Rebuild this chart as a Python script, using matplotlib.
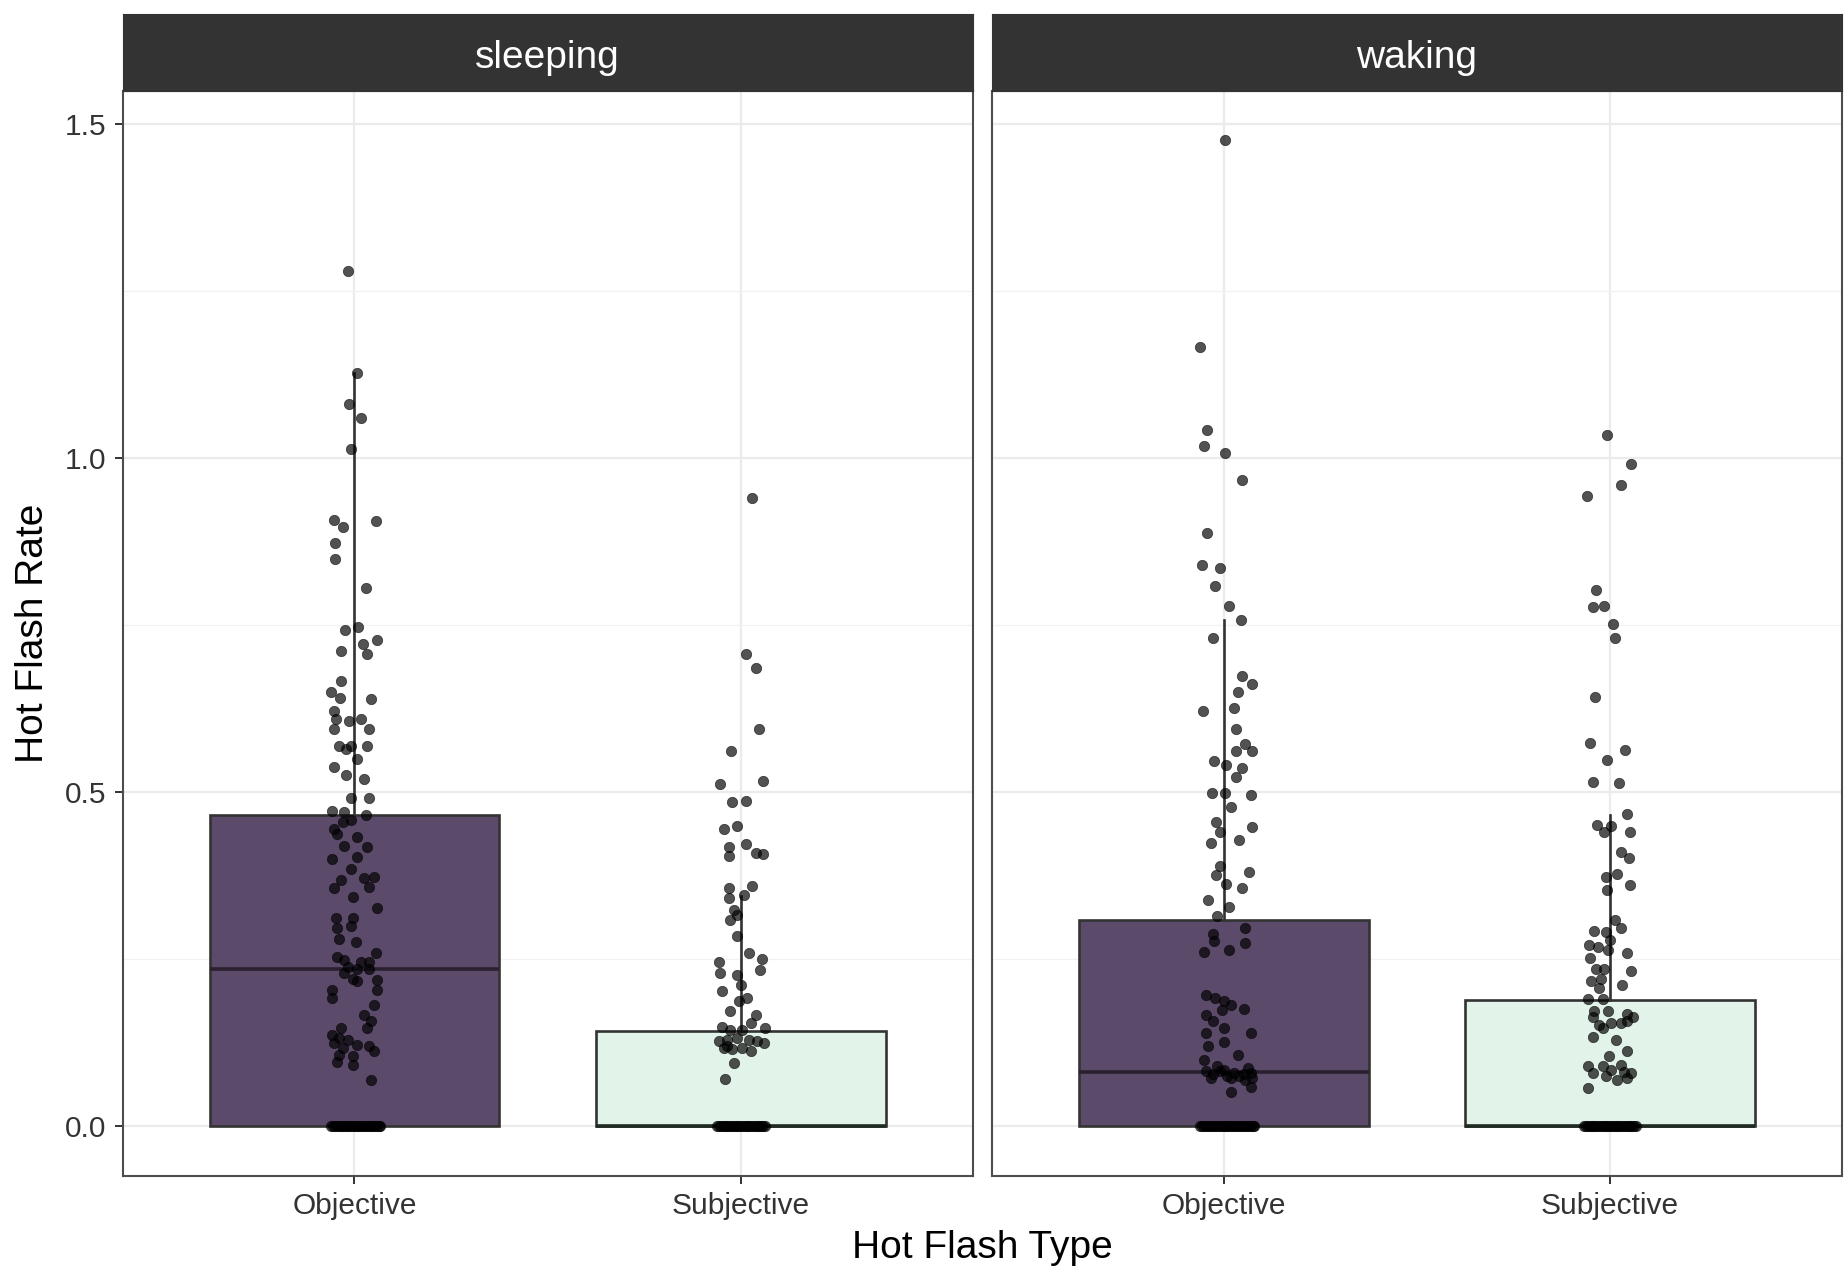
import matplotlib
matplotlib.use("Agg")
import matplotlib.pyplot as plt
from matplotlib.ticker import MultipleLocator

plt.rcParams['font.family'] = ['Liberation Sans', 'DejaVu Sans']

# ---------------- data ----------------
panels = ["sleeping", "waking"]
categories = ["Objective", "Subjective"]
y_ticks = [0.0, 0.5, 1.0, 1.5]
y_tick_labels = ["0.0", "0.5", "1.0", "1.5"]

# box statistics (per panel, per category)
box_q1 = {"sleeping": [0.0, 0.0], "waking": [0.0, 0.0]}
box_med = {"sleeping": [0.236, 0.0], "waking": [0.081, 0.0]}
box_q3 = {"sleeping": [0.466, 0.142], "waking": [0.309, 0.189]}
box_whislo = {"sleeping": [0.0, 0.0], "waking": [0.0, 0.0]}
box_whishi = {"sleeping": [1.127, 0.345], "waking": [0.757, 0.466]}

so_vals = [1.280, 1.127, 1.081, 1.059, 1.013, 0.907, 0.896, 0.906, 0.873, 0.849,
           0.805, 0.747, 0.742, 0.727, 0.721, 0.711, 0.706, 0.666, 0.650, 0.640,
           0.639, 0.622, 0.609, 0.607, 0.609, 0.594, 0.594, 0.569, 0.569, 0.569,
           0.564, 0.550, 0.537, 0.526, 0.520, 0.491, 0.491, 0.471, 0.470, 0.466,
           0.458, 0.455, 0.445, 0.438, 0.433, 0.420, 0.418, 0.400, 0.403, 0.385,
           0.373, 0.371, 0.368, 0.358, 0.356, 0.343, 0.326, 0.311, 0.311, 0.296,
           0.299, 0.281, 0.276, 0.259, 0.254, 0.249, 0.246, 0.246, 0.239, 0.236,
           0.236, 0.229, 0.221, 0.219, 0.217, 0.204, 0.204, 0.192, 0.182, 0.167,
           0.157, 0.147, 0.147, 0.137, 0.132, 0.129, 0.125, 0.122, 0.117, 0.120,
           0.112, 0.107, 0.105, 0.097, 0.092, 0.070,
           0, 0, 0, 0, 0, 0, 0, 0, 0, 0, 0, 0, 0, 0,
           0, 0, 0, 0, 0, 0, 0, 0, 0, 0, 0, 0, 0, 0]
so_jit = [-0.018, 0.007, -0.014, 0.016, -0.008, -0.053, -0.029, 0.055, -0.051, -0.051,
          0.029, 0.009, -0.025, 0.059, 0.023, -0.034, 0.033, -0.036, -0.062, -0.038,
          0.042, -0.053, -0.049, -0.014, 0.016, -0.053, 0.038, -0.040, -0.010, 0.033,
          -0.023, 0.007, -0.053, -0.023, 0.025, -0.010, 0.038, -0.057, -0.027, 0.029,
          -0.010, -0.029, -0.053, -0.045, 0.007, -0.027, 0.033, -0.057, 0.007, -0.010,
          0.050, 0.025, -0.036, 0.038, -0.053, -0.005, 0.059, -0.049, -0.005, -0.045,
          -0.010, -0.040, 0.003, 0.055, -0.045, -0.027, 0.016, 0.038, -0.018, 0.007,
          0.038, -0.027, -0.005, 0.059, 0.007, -0.057, 0.059, -0.057, 0.050, 0.025,
          0.042, 0.033, -0.036, -0.057, -0.040, -0.018, -0.053, 0.007, -0.029, 0.038,
          0.050, -0.040, -0.005, -0.045, -0.005, 0.042,
          -0.060, -0.050, -0.041, -0.032, -0.022, -0.013, -0.004, 0.006, 0.015, 0.025,
          0.034, 0.044, 0.053, 0.063,
          -0.055, -0.046, -0.036, -0.027, -0.018, -0.008, 0.001, 0.010, 0.020, 0.030,
          0.039, 0.048, 0.058, 0.066]

ss_vals = [0.940, 0.706, 0.686, 0.594, 0.562, 0.512, 0.517, 0.485, 0.486, 0.445,
           0.450, 0.418, 0.423, 0.404, 0.409, 0.408, 0.360, 0.356, 0.341, 0.346,
           0.323, 0.316, 0.308, 0.284, 0.260, 0.246, 0.251, 0.230, 0.234, 0.226,
           0.211, 0.203, 0.192, 0.187, 0.173, 0.167, 0.154, 0.147, 0.149, 0.144,
           0.144, 0.127, 0.129, 0.132, 0.129, 0.127, 0.125, 0.117, 0.115, 0.112,
           0.117, 0.120, 0.095, 0.071,
           0, 0, 0, 0, 0, 0, 0, 0, 0, 0, 0, 0, 0, 0,
           0, 0, 0, 0, 0, 0, 0, 0, 0, 0, 0, 0, 0]
ss_jit = [0.029, 0.012, 0.038, 0.048, -0.025, -0.055, 0.057, -0.023, 0.013, -0.045,
          -0.010, -0.032, 0.014, -0.032, 0.040, 0.057, 0.029, -0.032, -0.032, 0.007,
          -0.019, -0.010, -0.027, -0.010, 0.020, -0.057, 0.055, -0.053, 0.050, -0.010,
          -0.001, -0.049, 0.016, -0.006, -0.027, 0.038, 0.025, 0.063, -0.049, -0.027,
          0.003, -0.057, -0.036, -0.010, 0.020, 0.042, 0.059, -0.045, -0.023, 0.025,
          0.003, -0.036, -0.019, -0.041,
          -0.062, -0.052, -0.042, -0.033, -0.023, -0.014, -0.004, 0.005, 0.015, 0.024,
          0.034, 0.043, 0.053, 0.062,
          -0.057, -0.047, -0.038, -0.028, -0.019, -0.009, 0.000, 0.010, 0.019, 0.029,
          0.038, 0.048, 0.057]

wo_vals = [1.475, 1.166, 1.042, 1.017, 1.007, 0.967, 0.887, 0.840, 0.835, 0.809,
           0.778, 0.757, 0.731, 0.674, 0.661, 0.650, 0.622, 0.626, 0.595, 0.572,
           0.562, 0.562, 0.547, 0.541, 0.536, 0.522, 0.498, 0.498, 0.495, 0.477,
           0.456, 0.440, 0.448, 0.424, 0.428, 0.389, 0.376, 0.381, 0.363, 0.356,
           0.339, 0.328, 0.315, 0.288, 0.296, 0.277, 0.275, 0.261, 0.264, 0.197,
           0.192, 0.187, 0.174, 0.181, 0.176, 0.166, 0.157, 0.147, 0.139, 0.139,
           0.126, 0.120, 0.107, 0.099, 0.083, 0.078, 0.083, 0.075, 0.080, 0.078,
           0.080, 0.072, 0.072, 0.070, 0.072, 0.091, 0.088, 0.085, 0.076, 0.051,
           0.059,
           0, 0, 0, 0, 0, 0, 0, 0, 0, 0, 0, 0, 0, 0, 0,
           0, 0, 0, 0, 0, 0, 0, 0, 0, 0, 0, 0, 0, 0]
wo_jit = [0.003, -0.062, -0.042, -0.051, 0.004, 0.048, -0.043, -0.056, -0.009, -0.021,
          0.014, 0.045, -0.027, 0.047, 0.073, 0.036, -0.053, 0.027, 0.033, 0.056,
          0.033, 0.073, -0.025, 0.005, 0.047, 0.033, -0.029, 0.003, 0.070, 0.019,
          -0.020, -0.009, 0.073, -0.032, 0.040, -0.009, -0.020, 0.065, 0.005, 0.047,
          -0.041, 0.014, -0.018, -0.027, 0.056, -0.025, 0.056, -0.050, 0.014, -0.046,
          -0.022, 0.001, -0.004, 0.019, 0.054, -0.046, -0.027, 0.001, 0.070, -0.046,
          0.001, -0.041, 0.038, -0.050, -0.046, -0.027, -0.009, 0.010, 0.028, 0.052,
          0.070, -0.032, 0.019, 0.056, 0.074, -0.018, 0.063, 0.000, 0.040, 0.019,
          0.070,
          -0.060, -0.050, -0.040, -0.030, -0.020, -0.010, 0.000, 0.010, 0.020, 0.030,
          0.040, 0.050, 0.060, 0.070, 0.079,
          -0.055, -0.045, -0.035, -0.025, -0.015, -0.005, 0.005, 0.015, 0.025, 0.035,
          0.045, 0.055, 0.065, 0.075]

ws_vals = [1.034, 0.991, 0.960, 0.943, 0.802, 0.777, 0.778, 0.751, 0.731, 0.642,
           0.573, 0.563, 0.548, 0.515, 0.513, 0.467, 0.451, 0.440, 0.449, 0.440,
           0.410, 0.401, 0.378, 0.373, 0.361, 0.353, 0.308, 0.296, 0.292, 0.291,
           0.279, 0.271, 0.269, 0.264, 0.260, 0.252, 0.236, 0.236, 0.232, 0.217,
           0.221, 0.212, 0.207, 0.191, 0.191, 0.172, 0.172, 0.168, 0.164, 0.163,
           0.152, 0.154, 0.154, 0.157, 0.147, 0.133, 0.129, 0.113, 0.105, 0.090,
           0.090, 0.092, 0.085, 0.080, 0.075, 0.070, 0.072, 0.080, 0.082, 0.058,
           0, 0, 0, 0, 0, 0, 0, 0, 0, 0, 0, 0, 0, 0, 0,
           0, 0, 0, 0, 0, 0, 0, 0, 0, 0, 0, 0, 0, 0]
ws_jit = [-0.008, 0.054, 0.028, -0.061, -0.037, -0.045, -0.015, 0.008, 0.013, -0.038,
          -0.052, 0.039, -0.008, -0.043, 0.024, 0.045, -0.035, -0.015, 0.002, 0.052,
          0.028, 0.048, 0.019, -0.011, 0.052, -0.008, 0.013, 0.028, -0.041, -0.011,
          0.000, -0.054, -0.032, -0.006, 0.043, -0.052, -0.036, -0.015, 0.054, -0.049,
          -0.024, 0.032, -0.028, -0.058, -0.019, -0.041, -0.006, 0.045, 0.058, -0.045,
          -0.028, 0.002, 0.028, 0.045, -0.019, -0.045, 0.015, 0.045, -0.004, -0.058,
          -0.019, 0.028, 0.002, -0.045, -0.011, 0.019, 0.045, 0.054, 0.037, -0.058,
          -0.067, -0.057, -0.048, -0.038, -0.029, -0.019, -0.010, 0.000, 0.010, 0.019,
          0.029, 0.038, 0.048, 0.057, 0.067,
          -0.062, -0.052, -0.043, -0.033, -0.024, -0.014, -0.005, 0.005, 0.014, 0.024,
          0.033, 0.043, 0.052, 0.062]

point_vals = {"sleeping": [so_vals, ss_vals], "waking": [wo_vals, ws_vals]}
point_jit = {"sleeping": [so_jit, ss_jit], "waking": [wo_jit, ws_jit]}

# ---------------- style ----------------
fill_colors = ["#5b4a6a", "#e2f4e9"]
median_colors = ["#2a2030", "#1e2a22"]
edge_color = "#333333"

W, H = 1849, 1273
fig = plt.figure(figsize=(W / 100, H / 100), dpi=100)

panel_left = [122.6, 991.7]
panel_right = [972.8, 1842.0]
p_top, p_bot = 90.8, 1175.7
s_top = 14.2

for i, panel in enumerate(panels):
    l = panel_left[i] / W
    w = (panel_right[i] - panel_left[i]) / W
    ax = fig.add_axes([l, 1 - p_bot / H, w, (p_bot - p_top) / H])
    sax = fig.add_axes([l, 1 - p_top / H, w, (p_top - s_top) / H])

    positions = [1, 2]
    stats = []
    for j in range(len(categories)):
        stats.append(dict(q1=box_q1[panel][j], med=box_med[panel][j],
                          q3=box_q3[panel][j], whislo=box_whislo[panel][j],
                          whishi=box_whishi[panel][j], label=categories[j]))
    bp = ax.bxp(stats, positions=positions, widths=0.75, patch_artist=True,
                showfliers=False, showcaps=False, manage_ticks=False,
                boxprops=dict(edgecolor=edge_color, linewidth=1.9),
                whiskerprops=dict(color=edge_color, linewidth=1.9),
                medianprops=dict(linewidth=2.6))
    for j, patch in enumerate(bp["boxes"]):
        patch.set_facecolor(fill_colors[j])
        patch.set_zorder(2)
        bp["medians"][j].set_color(median_colors[j])
        bp["medians"][j].set_zorder(2.5)
    for wl in bp["whiskers"]:
        wl.set_zorder(2.5)

    for j in range(len(categories)):
        xs = [positions[j] + d for d in point_jit[panel][j]]
        ax.scatter(xs, point_vals[panel][j], s=56, facecolor="black",
                   edgecolor="black", linewidths=0.5, alpha=0.68, zorder=3)

    ax.set_xlim(0.4, 2.6)
    ax.set_ylim(-0.0738, 1.549)
    ax.set_xticks(positions)
    ax.set_xticklabels(categories)
    ax.yaxis.set_minor_locator(MultipleLocator(0.25))
    ax.set_yticks(y_ticks)
    if i == 0:
        ax.set_yticklabels(y_tick_labels)
        ax.tick_params(axis="y", which="major", length=6, width=1.4,
                       color="#333333", labelsize=21.5, labelcolor="#333333", pad=6)
    else:
        ax.tick_params(axis="y", which="major", length=0, labelleft=False)
    ax.tick_params(axis="y", which="minor", length=0)
    ax.tick_params(axis="x", length=6, width=1.4, color="#333333",
                   labelsize=21.5, labelcolor="#333333", pad=6)
    ax.grid(True, which="major", axis="both", color="#ebebeb", linewidth=1.6, zorder=0)
    ax.grid(True, which="minor", axis="y", color="#f2f2f2", linewidth=0.9, zorder=0)
    ax.set_axisbelow(True)
    for sp in ax.spines.values():
        sp.set_color("#4d4d4d")
        sp.set_linewidth(1.5)

    sax.set_facecolor("#333333")
    sax.set_xticks([])
    sax.set_yticks([])
    for sp in sax.spines.values():
        sp.set_color("#333333")
    sax.text(0.5, 0.43, panel, color="white", fontsize=28, ha="center",
             va="center", transform=sax.transAxes)

fig.text(982 / W, 1 - 1248 / H, "Hot Flash Type", fontsize=28, ha="center",
         va="center", color="black")
fig.text(33 / W, 1 - 633 / H, "Hot Flash Rate", fontsize=28, ha="center",
         va="center", rotation=90, color="black")

fig.savefig("out.png", dpi=100)
